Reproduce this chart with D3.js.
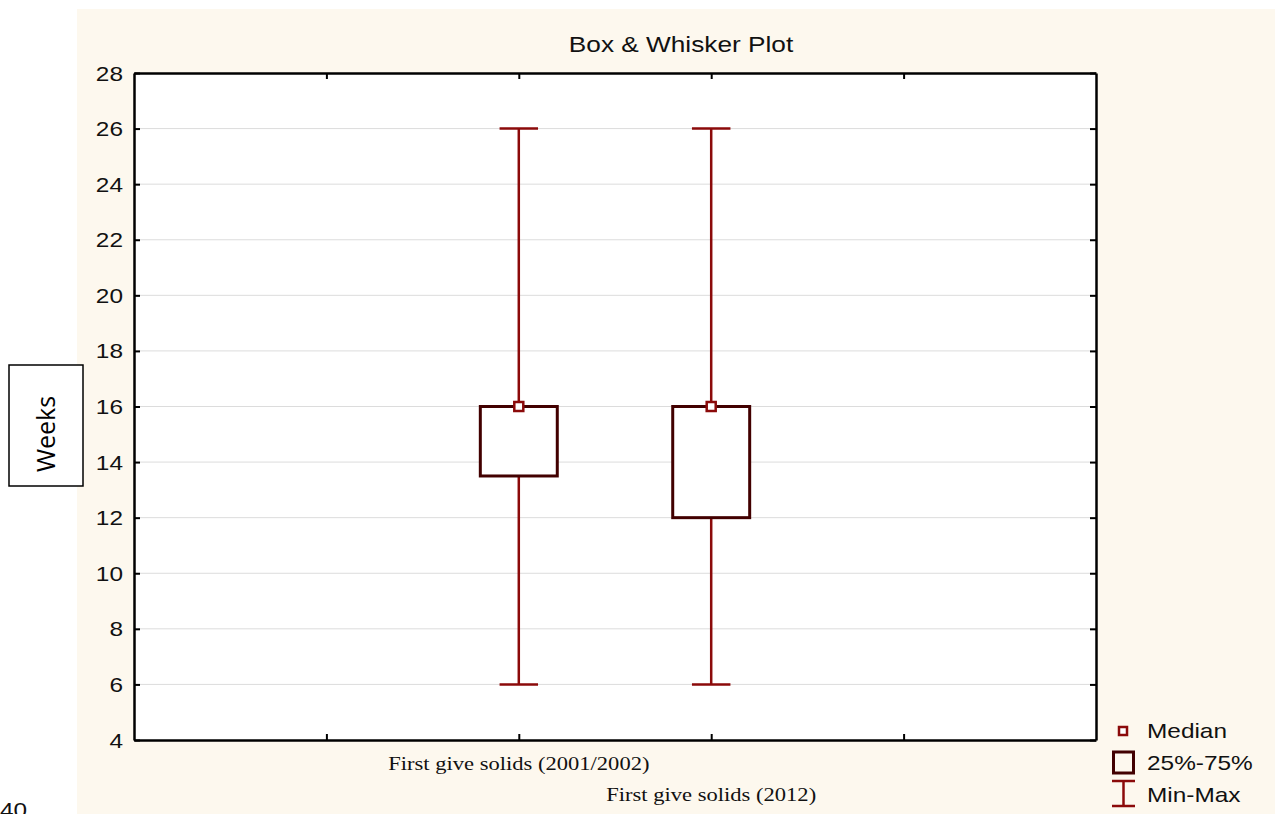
<!DOCTYPE html>
<html>
<head>
<meta charset="utf-8">
<script src="https://cdn.jsdelivr.net/npm/d3@7"></script>
<style>
  body { margin: 0; background: #fff; }
  svg { display: block; }
</style>
</head>
<body>
<svg id="chart" width="1275" height="814"></svg>
<script>
// data
var categories = ["First give solids (2001/2002)", "First give solids (2012)"];
var catPos = [2, 3];
var minValues = [6, 6];
var q1Values = [13.5, 12];
var medianValues = [16, 16];
var q3Values = [16, 16];
var maxValues = [26, 26];
var yTicks = [4, 6, 8, 10, 12, 14, 16, 18, 20, 22, 24, 26, 28];
var xTicks = [1, 2, 3, 4];
var legendLabels = ["Median", "25%-75%", "Min-Max"];

var width = 1275, height = 814;
var margin = {top: 73, right: 179, bottom: 74, left: 134};
var stretch = 1.22;   // the original is a bit wide, text looks stretched
var sans = "'Liberation Sans', Arial, sans-serif";
var whiskerColor = "#8b0a0a";
var boxColor = "#420000";

var svg = d3.select("#chart");

// cream panel
svg.append("rect")
  .attr("x", 77).attr("y", 9)
  .attr("width", width - 77).attr("height", height - 9)
  .attr("fill", "#fdf8ee");

var x = d3.scaleLinear().domain([0, 5]).range([margin.left, width - margin.right]);
var y = d3.scaleLinear().domain([4, 28]).range([height - margin.bottom, margin.top]);

// plot area
svg.append("rect")
  .attr("x", x(0)).attr("y", y(28))
  .attr("width", x(5) - x(0)).attr("height", y(4) - y(28))
  .attr("fill", "#fff");

// grid
svg.append("g").selectAll("line")
  .data(yTicks.slice(1, -1))
  .join("line")
  .attr("x1", x(0)).attr("x2", x(5))
  .attr("y1", d => y(d)).attr("y2", d => y(d))
  .attr("stroke", "#dcdcdc").attr("stroke-width", 1);

//title
svg.append("text")
  .attr("transform", "translate(681,52) scale(" + stretch + ",1)")
  .attr("text-anchor", "middle")
  .attr("font-family", sans)
  .attr("font-size", 21.5)
  .attr("fill", "#111")
  .text("Box & Whisker Plot");

// whiskers, boxes, medians
var g = svg.append("g");
categories.forEach(function(c, i) {
  var cx = x(catPos[i]);
  var capW = x(0.1) - x(0);
  g.append("line")
    .attr("x1", cx).attr("x2", cx)
    .attr("y1", y(minValues[i])).attr("y2", y(maxValues[i]))
    .attr("stroke", whiskerColor).attr("stroke-width", 2.5);
  [minValues[i], maxValues[i]].forEach(function(v) {
    g.append("line")
      .attr("x1", cx - capW).attr("x2", cx + capW)
      .attr("y1", y(v)).attr("y2", y(v))
      .attr("stroke", whiskerColor).attr("stroke-width", 2.5);
  });
  var bw = x(0.2) - x(0);
  g.append("rect")
    .attr("x", cx - bw).attr("y", y(q3Values[i]))
    .attr("width", bw * 2).attr("height", y(q1Values[i]) - y(q3Values[i]))
    .attr("fill", "#fff")
    .attr("stroke", boxColor).attr("stroke-width", 3);
  g.append("rect")
    .attr("x", cx - 4.5).attr("y", y(medianValues[i]) - 4.5)
    .attr("width", 9).attr("height", 9)
    .attr("fill", "#fff")
    .attr("stroke", whiskerColor).attr("stroke-width", 2.5);
});

// axes
function styleAxis(sel) {
  sel.select(".domain").attr("stroke", "#000").attr("stroke-width", 2.5);
  sel.selectAll(".tick line").attr("stroke", "#000").attr("stroke-width", 2);
}

var yAxis = svg.append("g")
  .attr("transform", "translate(" + x(0) + ",0)")
  .call(d3.axisLeft(y).tickValues(yTicks).tickSize(-6).tickSizeOuter(0).tickPadding(0))
  .call(styleAxis);
yAxis.selectAll(".tick text")
  .attr("x", null).attr("dy", "0.35em")
  .attr("transform", "translate(-11,0) scale(" + stretch + ",1)")
  .attr("font-family", sans).attr("font-size", 20).attr("fill", "#111");

svg.append("g")
  .attr("transform", "translate(" + x(5) + ",0)")
  .call(d3.axisRight(y).tickValues(yTicks).tickSize(-6).tickSizeOuter(0).tickFormat(""))
  .call(styleAxis);

svg.append("g")
  .attr("transform", "translate(0," + y(4) + ")")
  .call(d3.axisBottom(x).tickValues(xTicks).tickSize(-6).tickSizeOuter(0).tickFormat(""))
  .call(styleAxis);

svg.append("g")
  .attr("transform", "translate(0," + y(28) + ")")
  .call(d3.axisTop(x).tickValues(xTicks).tickSize(-6).tickSizeOuter(0).tickFormat(""))
  .call(styleAxis);

// category labels, staggered
svg.append("g").selectAll("text")
  .data(categories)
  .join("text")
  .attr("transform", (d, i) => "translate(" + x(catPos[i]) + "," + (y(4) + 30 + i * 31) + ") scale(" + stretch + ",1)")
  .attr("text-anchor", "middle")
  .attr("font-family", "'Liberation Serif', 'Times New Roman', serif")
  .attr("font-size", 18.5)
  .attr("fill", "#111")
  .text(d => d);

// Weeks label box
svg.append("rect")
  .attr("x", 9).attr("y", 365).attr("width", 74).attr("height", 121)
  .attr("fill", "#fff").attr("stroke", "#000").attr("stroke-width", 1.5);
svg.append("text")
  .attr("transform", "translate(55,434) rotate(-90)")
  .attr("text-anchor", "middle")
  .attr("font-family", "'Open Sans', sans-serif")
  .attr("font-size", 25)
  .attr("fill", "#000")
  .text("Weeks");

// stray page number at bottom left
svg.append("text")
  .attr("transform", "translate(0,817) scale(" + stretch + ",1)")
  .attr("font-family", sans).attr("font-size", 20).attr("fill", "#111")
  .text("40");

// legend
var lg = svg.append("g").attr("transform", "translate(1112,731)");
lg.append("rect")
  .attr("x", 7).attr("y", -4).attr("width", 8).attr("height", 8)
  .attr("fill", "#fff").attr("stroke", whiskerColor).attr("stroke-width", 2.5);
lg.append("rect")
  .attr("x", 1.5).attr("y", 21).attr("width", 20).attr("height", 21)
  .attr("fill", "none").attr("stroke", boxColor).attr("stroke-width", 3);
lg.append("line").attr("x1", 0).attr("x2", 23).attr("y1", 50).attr("y2", 50)
  .attr("stroke", whiskerColor).attr("stroke-width", 2.5);
lg.append("line").attr("x1", 0).attr("x2", 23).attr("y1", 75).attr("y2", 75)
  .attr("stroke", whiskerColor).attr("stroke-width", 2.5);
lg.append("line").attr("x1", 11.5).attr("x2", 11.5).attr("y1", 50).attr("y2", 75)
  .attr("stroke", whiskerColor).attr("stroke-width", 2.5);
lg.selectAll("text.leg")
  .data(legendLabels)
  .join("text")
  .attr("class", "leg")
  .attr("transform", (d, i) => "translate(35," + (7 + i * 32) + ") scale(" + stretch + ",1)")
  .attr("font-family", sans).attr("font-size", 20).attr("fill", "#111")
  .text(d => d);
</script>
</body>
</html>
